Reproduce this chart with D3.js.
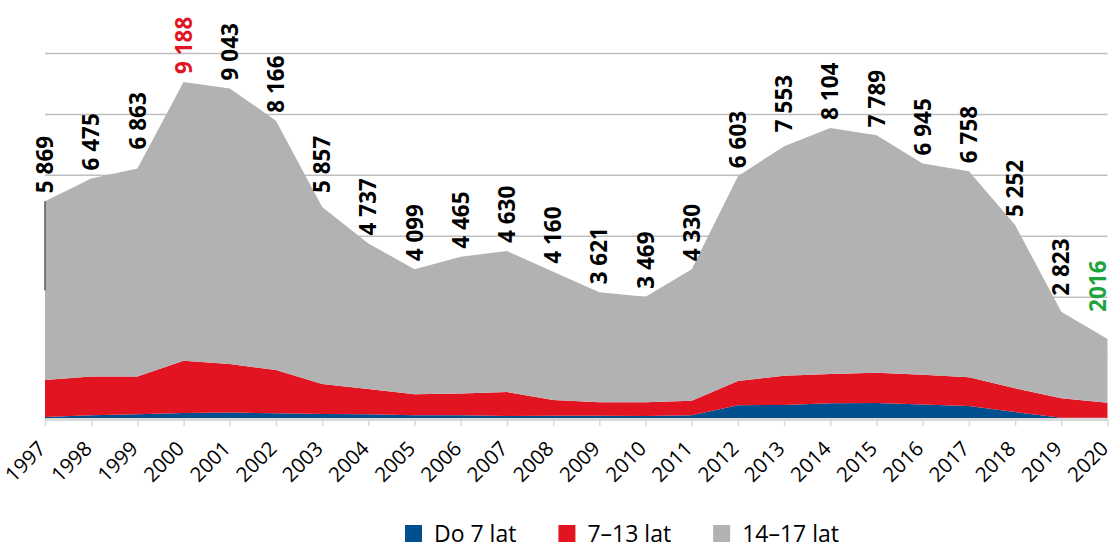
<!DOCTYPE html>
<html>
<head>
<meta charset="utf-8">
<script src="https://cdn.jsdelivr.net/npm/d3@7"></script>
<style>
  body { margin: 0; background: #fff; }
  svg { display: block; font-family: "Open Sans", sans-serif; }
</style>
</head>
<body>
<svg id="chart" width="1113" height="546"></svg>
<script>
// years on the x axis
let years = [1997, 1998, 1999, 2000, 2001, 2002, 2003, 2004, 2005, 2006, 2007, 2008,
             2009, 2010, 2011, 2012, 2013, 2014, 2015, 2016, 2017, 2018, 2019, 2020];

// series
let under7 = [55, 100, 130, 165, 180, 155, 135, 130, 100, 100, 80, 90,
              90, 80, 100, 375, 385, 430, 440, 400, 355, 190, 35, 35];
let age7to13 = [1010, 1065, 1030, 1430, 1325, 1185, 820, 690, 575, 600, 660, 430,
                365, 375, 400, 665, 800, 800, 825, 810, 785, 650, 530, 410];
let age14to17 = [4895, 5415, 5695, 7625, 7540, 6820, 4845, 3985, 3420, 3740, 3855, 3510,
                 3010, 2890, 3600, 5605, 6280, 6735, 6500, 5780, 5640, 4465, 2370, 1745];

// totals printed above the chart
let totals = [5869, 6475, 6863, 9188, 9043, 8166, 5857, 4737, 4099, 4465, 4630, 4160,
              3621, 3469, 4330, 6603, 7553, 8104, 7789, 6945, 6758, 5252, 2823, 2016];

let seriesNames = ['Do 7 lat', '7\u201313 lat', '14\u201317 lat'];
let seriesColors = ['#00508F', '#E31421', '#B2B2B2'];

let yMax = 10000;
let gridCount = 6;

// labels that sit further above their point than the rest
let labelGap = 8;
let labelLift = { 1999: 19, 2003: 14, 2013: 14, 2019: 16, 2020: 27 };

let W = 1113;
let svg = d3.select('#chart');

let xScale = d3.scalePoint()
    .domain(years)
    .range([45, 1107.5]);

let yScale = d3.scaleLinear()
    .domain([0, yMax])
    .range([419, 53.5]);

let rows = years.map((y, i) => ({
    year: y,
    s0: under7[i],
    s1: age7to13[i],
    s2: age14to17[i]
}));

let stack = d3.stack().keys(['s0', 's1', 's2']);
let layers = stack(rows);

// gridlines
svg.append('g')
    .selectAll('line')
    .data(d3.range(1, gridCount + 1).map(i => i * yMax / gridCount))
    .join('line')
    .attr('x1', xScale(years[0]))
    .attr('x2', xScale(years[years.length - 1]))
    .attr('y1', d => yScale(d))
    .attr('y2', d => yScale(d))
    .attr('stroke', '#BFBFBF')
    .attr('stroke-width', 1.5);

// stacked areas
let area = d3.area()
    .x(d => xScale(d.data.year))
    .y0(d => yScale(d[0]))
    .y1(d => yScale(d[1]));

svg.append('g')
    .selectAll('path')
    .data(layers)
    .join('path')
    .attr('d', area)
    .attr('fill', (d, i) => seriesColors[i]);

// x axis line + ticks
let xAxis = d3.axisBottom(xScale)
    .tickSize(7)
    .tickSizeOuter(0);

let axisG = svg.append('g')
    .attr('transform', `translate(0, ${yScale(0)})`)
    .call(xAxis);

axisG.select('.domain')
    .attr('stroke', '#D9D9D9')
    .attr('stroke-width', 3);

axisG.selectAll('.tick line')
    .attr('stroke', '#D9D9D9')
    .attr('stroke-width', 1.5);

axisG.selectAll('.tick text')
    .attr('font-family', '"Open Sans", sans-serif')
    .attr('font-size', 20.5)
    .attr('fill', '#000')
    .attr('text-anchor', 'end')
    .attr('y', 0)
    .attr('dy', 0)
    .attr('transform', 'translate(1.5, 31) rotate(-45)');

// leader line on the first point
let topLayer = layers[2];
svg.append('line')
    .attr('x1', xScale(years[0]))
    .attr('x2', xScale(years[0]))
    .attr('y1', yScale(topLayer[0][1]))
    .attr('y2', yScale(topLayer[0][1]) + 89)
    .attr('stroke', '#595959')
    .attr('stroke-width', 1.5);

// total labels
let pl = d3.formatLocale({ decimal: ',', thousands: ' ', grouping: [3], currency: ['', ''] });
let fmt = pl.format(',d');

svg.append('g')
    .selectAll('text')
    .data(totals)
    .join('text')
    .attr('transform', (d, i) => {
        let x = Math.min(xScale(years[i]), W - 15);
        let y = yScale(topLayer[i][1]) - (labelLift[years[i]] || labelGap);
        return `translate(${x}, ${y}) rotate(-90)`;
    })
    .attr('dy', '0.36em')
    .attr('text-anchor', 'start')
    .attr('font-size', 22.5)
    .attr('font-weight', 'bold')
    .attr('fill', (d, i) => {
        if (d == d3.max(totals)) return '#E31421';
        if (d == d3.min(totals)) return '#1FA33B';
        return '#000';
    })
    .text(d => d == d3.min(totals) ? String(d) : fmt(d));

// legend
let legend = svg.append('g').attr('transform', 'translate(405, 0)');
let lx = 0;
seriesNames.forEach((name, i) => {
    legend.append('rect')
        .attr('x', lx)
        .attr('y', 525)
        .attr('width', 17)
        .attr('height', 17)
        .attr('fill', seriesColors[i]);
    let t = legend.append('text')
        .attr('x', lx + 29)
        .attr('y', 541.5)
        .attr('font-size', 23)
        .attr('fill', '#000')
        .text(name);
    lx += 29 + t.node().getComputedTextLength() + 42;
});
</script>
</body>
</html>
